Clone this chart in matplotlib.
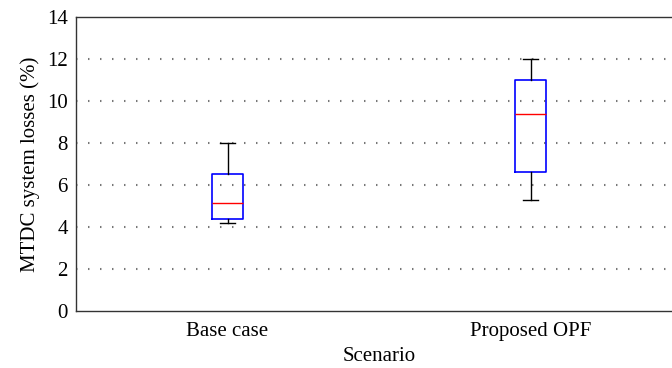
import matplotlib
matplotlib.use("Agg")
import matplotlib.pyplot as plt

# Scenario box-plot statistics (MTDC system losses, %)
scenarios = ["Base case", "Proposed OPF"]
whisker_low = [4.18, 5.27]
q1 = [4.37, 6.64]
median = [5.13, 9.40]
q3 = [6.54, 10.99]
whisker_high = [8.0, 12.02]
y_ticks = [0, 2, 4, 6, 8, 10, 12, 14]

plt.rcParams["font.family"] = ["Liberation Serif", "DejaVu Serif"]

fig = plt.figure(figsize=(6.72, 3.68), dpi=100)
W, H = 672, 368
ax = fig.add_axes([76 / W, 1 - 311 / H, (682 - 76) / W, (311 - 17) / H])

stats = []
for i, name in enumerate(scenarios):
    stats.append(dict(label=name, whislo=whisker_low[i], q1=q1[i], med=median[i],
                      q3=q3[i], whishi=whisker_high[i], fliers=[]))

ax.bxp(stats, positions=[1, 2], widths=0.1, showfliers=False,
       boxprops=dict(color="#0000ff", linewidth=1.2),
       medianprops=dict(color="#ff0000", linewidth=1.0),
       whiskerprops=dict(color="black", linewidth=1.0, linestyle="-"),
       capprops=dict(color="black", linewidth=1.0),
       capwidths=0.05)

ax.set_xlim(0.5, 2.5)
ax.set_ylim(0, 14)
ax.set_yticks(y_ticks)
ax.set_xticks([1, 2])
ax.set_xticklabels(scenarios)
ax.tick_params(axis="both", length=0, labelsize=15)
ax.tick_params(axis="x", pad=8)
ax.tick_params(axis="y", pad=6)
ax.yaxis.grid(True, linestyle=(0, (0.7, 5.06)), color="#777777", linewidth=1.5)
# no dotted lines on top of the frame edges
for tick, line in zip(ax.get_yticks(), ax.get_ygridlines()):
    if tick in (y_ticks[0], y_ticks[-1]):
        line.set_visible(False)
ax.set_axisbelow(True)
for s in ax.spines.values():
    s.set_color("#333333")
    s.set_linewidth(1.0)

ax.set_xlabel("Scenario", fontsize=15, labelpad=4)
ax.set_ylabel("MTDC system losses (%)", fontsize=15, labelpad=5)

fig.savefig("out.png", dpi=100)
